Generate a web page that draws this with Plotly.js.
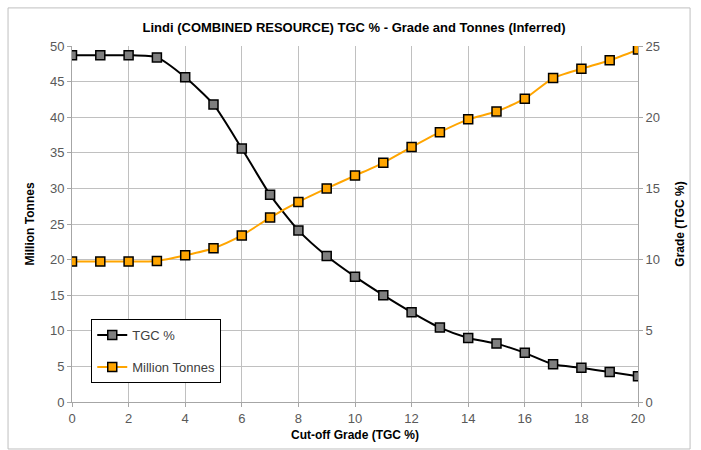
<!DOCTYPE html>
<html>
<head>
<meta charset="utf-8">
<script src="https://cdn.plot.ly/plotly-3.0.1.min.js"></script>
<style>
html,body{margin:0;padding:0;background:#fff;}
#chart{width:701px;height:450px;}
</style>
</head>
<body>
<div id="chart"></div>
<script>
var cutoff = [0,1,2,3,4,5,6,7,8,9,10,11,12,13,14,15,16,17,18,19,20];
var tgcSeries = [48.7,48.7,48.7,48.4,45.6,41.8,35.6,29.1,24.1,20.5,17.6,15.0,12.6,10.45,9.0,8.2,6.9,5.3,4.8,4.2,3.6];
var tonnesSeries = [9.86,9.86,9.86,9.9,10.3,10.8,11.7,12.95,14.05,15.0,15.9,16.8,17.9,18.95,19.85,20.4,21.3,22.75,23.4,24.0,24.75];
var xTicks = [0,2,4,6,8,10,12,14,16,18,20];
var leftTicks = [0,5,10,15,20,25,30,35,40,45,50];
var rightTicks = [0,5,10,15,20,25];

var tickFont = {family:'"Liberation Sans",sans-serif', size:13, color:'#595959'};
var titleFont = {family:'"Liberation Sans",sans-serif', size:12, color:'#000'};

var traces = [
  {x:cutoff, y:tgcSeries, name:'TGC %', type:'scatter', mode:'lines+markers',
   line:{color:'#000000', width:2, shape:'spline', smoothing:0.6},
   marker:{symbol:'square', size:9, color:'#7f7f7f', line:{color:'#000', width:1.5}},
   legendgroup:'a', yaxis:'y'},
  {x:cutoff, y:tonnesSeries, name:'Million Tonnes', type:'scatter', mode:'lines+markers',
   line:{color:'#FFA500', width:2, shape:'spline', smoothing:0.6},
   marker:{symbol:'square', size:9, color:'#FFA500', line:{color:'#000', width:1.5}},
   legendgroup:'b', yaxis:'y2'}
];

var layout = {
  width:701, height:450,
  margin:{l:72, r:63, t:46, b:48},
  paper_bgcolor:'#fff', plot_bgcolor:'#fff',
  title:{text:'<b>Lindi (COMBINED RESOURCE) TGC % - Grade and Tonnes (Inferred)</b>',
         font:{family:'"Liberation Sans",sans-serif', size:13, color:'#000'},
         x:0.505, xanchor:'center', y:0.94, yanchor:'middle'},
  xaxis:{range:[0,20], tickvals:xTicks, ticktext:xTicks.map(String), showgrid:true, gridcolor:'#c0c0c0', gridwidth:1,
         zeroline:false, showline:true, linecolor:'#a6a6a6', ticks:'outside', ticklen:4, tickcolor:'#a6a6a6',
         tickfont:tickFont,
         title:{text:'<b>Cut-off Grade (TGC %)</b>', font:titleFont, standoff:6}},
  yaxis:{range:[0,50], tickvals:leftTicks, ticktext:leftTicks.map(String), showgrid:true, gridcolor:'#c0c0c0', gridwidth:1,
         zeroline:false, showline:true, linecolor:'#a6a6a6', ticks:'outside', ticklen:4, tickcolor:'#a6a6a6',
         tickfont:tickFont,
         title:{text:'<b>Million Tonnes</b>', font:titleFont, standoff:12}},
  yaxis2:{range:[0,25], tickvals:rightTicks, ticktext:rightTicks.map(String), overlaying:'y', side:'right',
          showgrid:false, zeroline:false, showline:true, linecolor:'#a6a6a6', ticks:'outside', ticklen:4, tickcolor:'#a6a6a6',
          tickfont:tickFont,
          title:{text:'<b>Grade (TGC %)</b>', font:titleFont, standoff:16}},
  showlegend:true,
  legend:{x:0.034, y:0.233, xanchor:'left', yanchor:'top', bgcolor:'#fff', bordercolor:'#000', borderwidth:1,
          font:{family:'"Liberation Sans",sans-serif', size:13, color:'#404040'},
          traceorder:'grouped', tracegroupgap:12, itemwidth:30, entrywidth:100},
  shapes:[{type:'rect', xref:'paper', yref:'paper', x0:-0.113, x1:1.092, y0:-0.132, y1:1.107,
           line:{color:'#bfbfbf', width:1}, fillcolor:'rgba(0,0,0,0)'}]
};

Plotly.newPlot('chart', traces, layout, {displayModeBar:false, staticPlot:true});
</script>
</body>
</html>
